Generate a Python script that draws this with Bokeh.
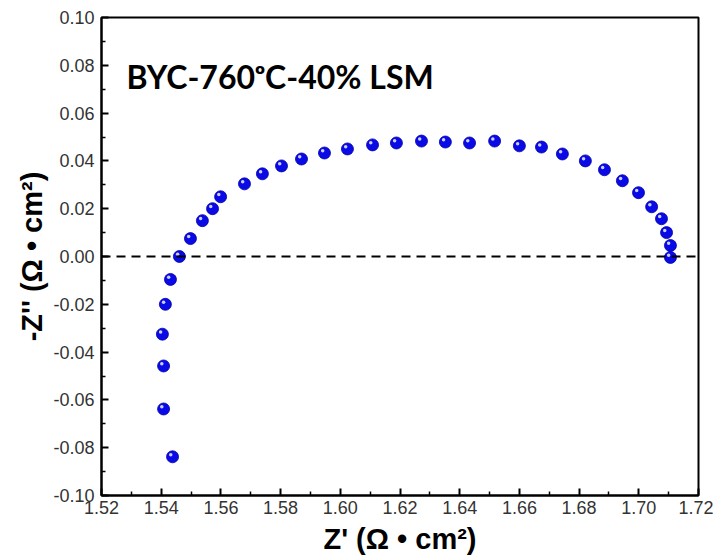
from bokeh.plotting import figure
from bokeh.models import ColumnDataSource, FixedTicker, NumeralTickFormatter, Span, Label, Range1d
from bokeh.transform import dodge
from bokeh.embed import file_html
from bokeh.resources import INLINE

# Data (Nyquist plot)
z_real = [1.5438, 1.5408, 1.5408, 1.5404, 1.5414, 1.5431, 1.5461, 1.5498, 1.5538,
          1.5572, 1.5599, 1.5679, 1.5739, 1.5803, 1.5870, 1.5947, 1.6024, 1.6108,
          1.6188, 1.6272, 1.6352, 1.6433, 1.6517, 1.6600, 1.6674, 1.6744, 1.6821,
          1.6885, 1.6945, 1.6999, 1.7043, 1.7076, 1.7093, 1.7106, 1.7106]
z_imag = [-0.0838, -0.0638, -0.0458, -0.0325, -0.0200, -0.0096, 0.0000, 0.0075, 0.0150,
          0.0200, 0.0250, 0.0304, 0.0346, 0.0379, 0.0408, 0.0433, 0.0450, 0.0467,
          0.0475, 0.0483, 0.0479, 0.0475, 0.0483, 0.0463, 0.0458, 0.0429, 0.0400,
          0.0363, 0.0317, 0.0267, 0.0208, 0.0158, 0.0100, 0.0046, -0.0004]
x_ticks = [1.52, 1.54, 1.56, 1.58, 1.60, 1.62, 1.64, 1.66, 1.68, 1.70, 1.72]
y_ticks = [-0.10, -0.08, -0.06, -0.04, -0.02, 0.00, 0.02, 0.04, 0.06, 0.08, 0.10]
x_minor = [1.53, 1.55, 1.57, 1.59, 1.61, 1.63, 1.65, 1.67, 1.69, 1.71]
y_minor = [-0.09, -0.07, -0.05, -0.03, -0.01, 0.01, 0.03, 0.05, 0.07, 0.09]
title_text = "BYC-760\u1d52C-40% LSM"

src = ColumnDataSource(data=dict(x=z_real, y=z_imag))

p = figure(width=713, height=557, output_backend="svg", toolbar_location=None,
           x_range=Range1d(x_ticks[0], x_ticks[-1]), y_range=Range1d(y_ticks[0], y_ticks[-1]),
           min_border_left=101, min_border_right=15, min_border_top=17, min_border_bottom=60)
p.grid.visible = False
p.outline_line_color = "black"
p.outline_line_width = 2
p.outline_line_alpha = 1.0
p.background_fill_color = "white"
p.border_fill_color = "white"

for ax, ticks, minor in ((p.xaxis[0], x_ticks, x_minor), (p.yaxis[0], y_ticks, y_minor)):
    ax.ticker = FixedTicker(ticks=ticks, minor_ticks=minor)
    ax.formatter = NumeralTickFormatter(format="0.00")
    ax.axis_line_width = 2
    ax.major_tick_in = 7
    ax.major_tick_out = 0
    ax.minor_tick_in = 4
    ax.minor_tick_out = 0
    ax.major_tick_line_width = 2
    ax.minor_tick_line_width = 1.5
    ax.major_label_text_font = "Liberation Sans"
    ax.major_label_text_font_size = "18px"
    ax.major_label_text_color = "#333333"
    ax.axis_label_text_font = "Liberation Sans"
    ax.axis_label_text_font_style = "bold"
    ax.axis_label_text_font_size = "29px"
    ax.axis_label_text_color = "black"

p.xaxis.axis_label = "Z' (\u03a9 \u2022 cm\u00b2)"
p.yaxis.axis_label = "-Z'' (\u03a9 \u2022 cm\u00b2)"
p.xaxis.major_label_standoff = 5
p.yaxis.major_label_standoff = 7
p.xaxis.axis_label_standoff = 6
p.yaxis.axis_label_standoff = 2

zero = Span(location=0, dimension="width", line_color="black", line_width=2, line_dash="9 6")
p.add_layout(zero)

p.scatter("x", "y", source=src, size=12, fill_color="#0a0ae6", line_color="#0000a8", line_width=0.8)
p.scatter(dodge("x", -0.0006, range=p.x_range), dodge("y", 0.0009, range=p.y_range), source=src,
          size=3.5, fill_color="white", fill_alpha=0.8, line_color=None)

title = Label(x=1.5284, y=0.0755, text=title_text, text_font="Lato", text_font_style="bold",
              text_font_size="32px", text_color="black", text_baseline="alphabetic")
p.add_layout(title)

open("out.html", "w").write(file_html(p, INLINE))
